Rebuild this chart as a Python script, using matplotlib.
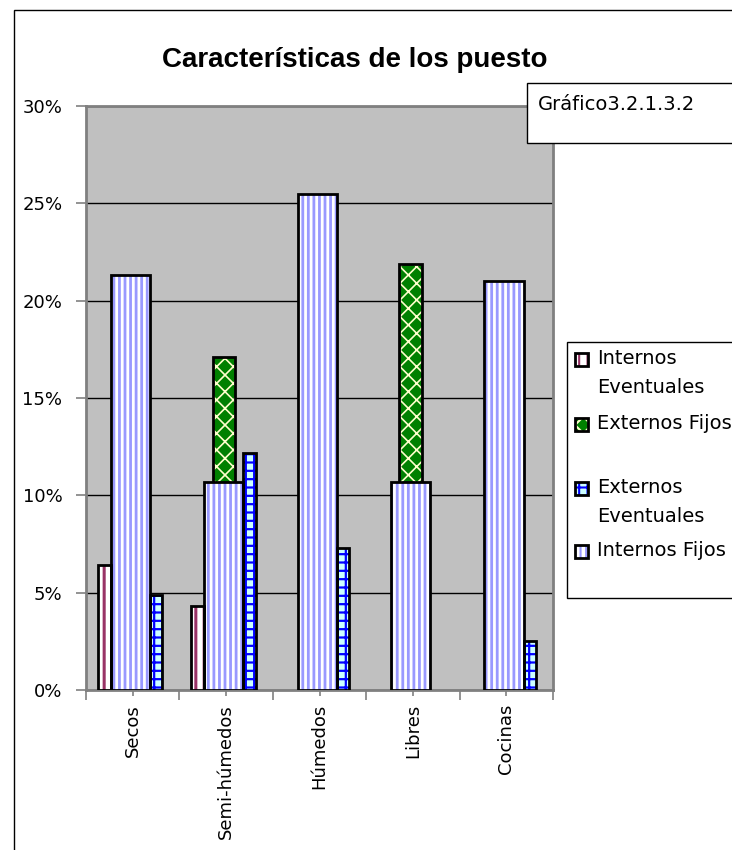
import numpy as np
import matplotlib
matplotlib.use("Agg")
import matplotlib.pyplot as plt
from matplotlib.patches import Rectangle
from matplotlib.ticker import FuncFormatter, FixedLocator

categories = ['Secos', 'Semi-húmedos', 'Húmedos', 'Libres', 'Cocinas']
internos_eventuales = [6.4, 4.3, 0, 0, 0]
externos_fijos = [0, 17.1, 0, 21.9, 0]
externos_eventuales = [4.9, 12.2, 7.3, 0, 2.5]
internos_fijos = [21.3, 10.7, 25.5, 10.7, 21.0]

legend_labels = ['Internos\nEventuales', 'Externos Fijos', 'Externos\nEventuales', 'Internos Fijos']

# style per series: face, hatch, hatch colour, hatch linewidth
styles = {
    'ie': ('white', '||', '#993366', 2.2),
    'ef': ('#008000', 'xx', '#ffffcc', 1.2),
    'ee': ('#ccffff', '++', '#0000ff', 1.6),
    'if': ('white', '|||', '#9999ff', 2.0),
}

label_font = 'DejaVu Sans'

fig = plt.figure(figsize=(7.32, 8.5), dpi=100)
ax = fig.add_axes([86/732, 1-690/850, (553-86)/732, (690-106)/850])
ax.set_facecolor('#c0c0c0')

x = np.arange(len(categories))


def draw_bars(offset, values, width, key, z):
    face, hatch, hcol, hlw = styles[key]
    v = np.array(values, dtype=float)
    keep = v > 0
    with plt.rc_context({'hatch.linewidth': hlw}):
        ax.bar(x[keep] + offset, v[keep], width, color=face, hatch=hatch,
               edgecolor=hcol, linewidth=0, zorder=z)
    ax.bar(x[keep] + offset, v[keep], width, fill=False, edgecolor='black',
           linewidth=2, zorder=z + 0.1)


draw_bars(-0.025, externos_fijos, 0.24, 'ef', 2)
draw_bars(-0.025, internos_fijos, 0.42, 'if', 3)
draw_bars(-0.305, internos_eventuales, 0.14, 'ie', 3)
draw_bars(0.25, externos_eventuales, 0.13, 'ee', 3)

ax.set_xlim(-0.5, len(categories) - 0.5)
ax.set_ylim(0, 30)
ax.set_yticks(np.arange(0, 31, 5))
ax.yaxis.set_major_formatter(FuncFormatter(lambda v, _: f'{int(v)}%'))
ax.yaxis.grid(True, color='black', linewidth=1)
ax.set_axisbelow(True)

ax.xaxis.set_major_locator(FixedLocator(np.arange(-0.5, len(categories), 1)))
ax.set_xticklabels([])
ax.set_xticks(x, minor=True)
ax.set_xticklabels(categories, minor=True, rotation=90, fontsize=13,
                   family=label_font, va='top')
ax.tick_params(axis='x', which='major', length=7, color='#808080', width=1.2)
ax.tick_params(axis='x', which='minor', length=4, color='#808080', width=1.2, pad=6)
ax.tick_params(axis='y', length=7, color='#808080', width=1.2, labelsize=13, pad=10)
for lab in ax.get_yticklabels():
    lab.set_family(label_font)

for side in ['left', 'bottom', 'top', 'right']:
    ax.spines[side].set_color('#808080')
    ax.spines[side].set_linewidth(2)

fig.text(355/732, 1-60/850, 'Características de los puesto', ha='center', va='center',
         fontsize=20, fontweight='bold', family='Liberation Sans')

# outer chart frame
fig.add_artist(Rectangle((14/732, -0.1), 2, 1-10/850+0.1, fill=False,
                         edgecolor='black', linewidth=1, transform=fig.transFigure))

# figure number box
fig.add_artist(Rectangle((527/732, 1-143/850), 1, 60/850, facecolor='white',
                         edgecolor='black', linewidth=1, transform=fig.transFigure, zorder=5))
fig.text(538/732, 1-104/850, 'Gráfico3.2.1.3.2', ha='left', va='center',
         fontsize=14, family=label_font, zorder=6)

# legend
fig.add_artist(Rectangle((567/732, 1-598/850), 1, (598-342)/850, facecolor='white',
                         edgecolor='black', linewidth=1, transform=fig.transFigure, zorder=5))
rows = [360, 425, 489, 552]
keys = ['ie', 'ef', 'ee', 'if']
for lab, key, ry in zip(legend_labels, keys, rows):
    face, hatch, hcol, hlw = styles[key]
    with plt.rc_context({'hatch.linewidth': 1.5}):
        fig.add_artist(Rectangle((575/732, 1-(ry+6)/850), 13/732, 13/850, facecolor=face,
                                 hatch=hatch, edgecolor=hcol, linewidth=0,
                                 transform=fig.transFigure, zorder=6))
    fig.add_artist(Rectangle((575/732, 1-(ry+6)/850), 13/732, 13/850, fill=False,
                             edgecolor='black', linewidth=2,
                             transform=fig.transFigure, zorder=7))
    fig.text(597/732, 1-(ry-11)/850, lab, ha='left', va='top', fontsize=14,
             family=label_font, linespacing=1.65, zorder=7)

fig.savefig('out.png', dpi=100)
